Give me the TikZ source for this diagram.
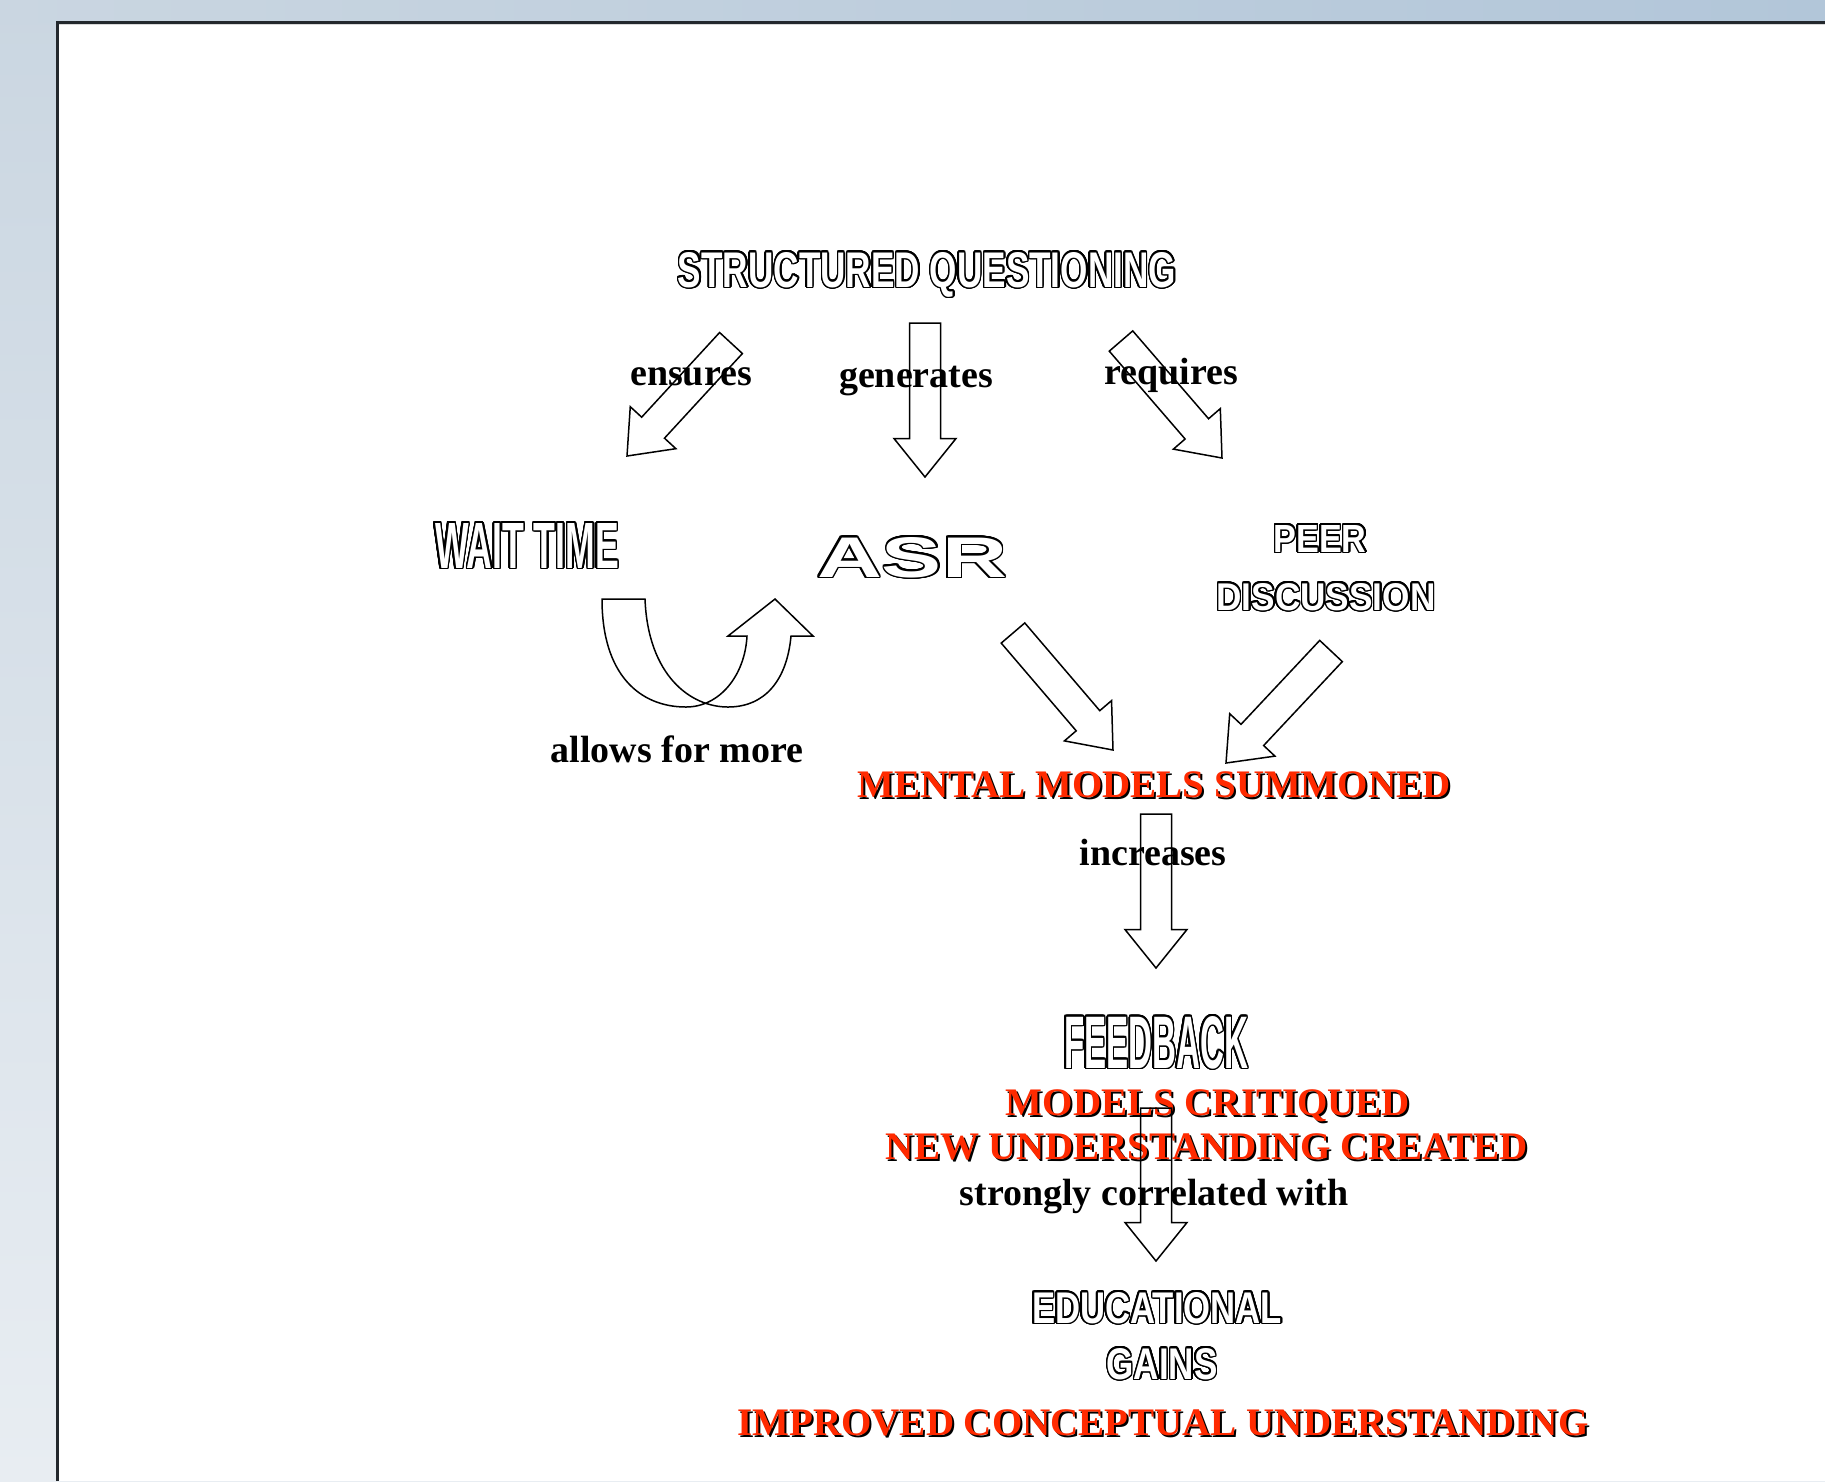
\documentclass[tikz,border=0pt]{standalone}
\usepackage{fontspec}
\setmainfont{Liberation Serif}
\setsansfont{Liberation Sans}
\usepackage{graphicx}
\usepackage{contour}
\contourlength{0.42pt}
\contournumber{24}
\usetikzlibrary{calc}
\definecolor{mmred}{HTML}{FF2A00}
\definecolor{panelline}{HTML}{23282D}
\definecolor{bgleft}{HTML}{CAD6E1}
\definecolor{bgright}{HTML}{B2C6D9}
\definecolor{bgbottom}{HTML}{E8EDF2}

\newcommand{\labelfont}{\fontsize{10.8}{13}\selectfont\bfseries}
\newcommand{\redfont}{\fontsize{11.1}{13}\selectfont\bfseries}
% white letters with a black rim, squeezed to the size of the original
\newcommand{\hollow}[3]{\textcolor{white}{\contour{black}{\resizebox{#1}{#2}{\sffamily\bfseries #3}}}}
% red text with a small black drop shadow
\newcommand{\redtxt}[1]{\leavevmode\rlap{\hspace{0.2mm}\raisebox{-0.2mm}{\color{black}#1}}\textcolor{mmred}{#1}}
% outlined block arrow from tail to tip
\newcommand{\blockarrow}[2]{%
  \coordinate (ba-neck) at ($(#2)!3.85mm!(#1)$);
  \draw[blockline] ($(#1)!1.55mm!90:(#2)$) -- ($(ba-neck)!1.55mm!90:(#2)$)
    -- ($(ba-neck)!3.1mm!90:(#2)$) -- (#2) -- ($(ba-neck)!3.1mm!-90:(#2)$)
    -- ($(ba-neck)!1.55mm!-90:(#2)$) -- ($(#1)!1.55mm!-90:(#2)$) -- cycle;}

\begin{document}
\begin{tikzpicture}[x=0.1mm, y=-0.1mm,
  lbl/.style={inner sep=0, anchor=base, font=\labelfont},
  redlbl/.style={inner sep=0, anchor=base, font=\redfont},
  hollowlbl/.style={inner sep=0, anchor=base},
  blockline/.style={draw=black, line width=0.15mm, line join=miter}]
  \useasboundingbox (0,0) rectangle (1825,1481);

  % backdrop and slide panel
  \shade[top color=bgleft, bottom color=bgbottom] (0,0) rectangle (1825,1481);
  \shade[left color=bgleft, right color=bgright] (0,0) rectangle (1825,22);
  \fill[white] (57,22) rectangle (1825,1481);
  \draw[black!15, line width=0.15mm] (59,24.5) -- (1825,24.5);
  \draw[panelline, line width=0.22mm] (57.5,1481) -- (57.5,22.5) -- (1825,22.5);

  % concepts
  \node[hollowlbl] (sq) at (927,287) {\hollow{49.8mm}{3.5mm}{STRUCTURED QUESTIONING}};
  \node[hollowlbl] (wait) at (527,568) {\hollow{18.4mm}{4.5mm}{WAIT TIME}};
  \node[hollowlbl] (asr) at (912,577) {\hollow{19mm}{4mm}{ASR}};
  \node[hollowlbl] (peer) at (1320,552) {\hollow{9.3mm}{2.7mm}{PEER}};
  \node[hollowlbl] (disc) at (1326,610) {\hollow{21.9mm}{2.7mm}{DISCUSSION}};
  \node[hollowlbl] (feedback) at (1156,1068) {\hollow{18.4mm}{5.2mm}{FEEDBACK}};
  \node[hollowlbl] (edu) at (1157,1323) {\hollow{25mm}{3.1mm}{EDUCATIONAL}};
  \node[hollowlbl] (gains) at (1162,1379) {\hollow{11.1mm}{3.1mm}{GAINS}};

  \node[redlbl] (mental) at (1154,797) {\redtxt{MENTAL MODELS SUMMONED}};
  \node[redlbl] (critiqued) at (1208,1115) {\redtxt{MODELS CRITIQUED}};
  \node[redlbl] (created) at (1207,1159) {\redtxt{NEW UNDERSTANDING CREATED}};
  \node[redlbl] (improved) at (1163,1435) {\redtxt{IMPROVED CONCEPTUAL UNDERSTANDING}};

  % link words
  \node[lbl] (ensures) at (691,385) {ensures};
  \node[lbl] (generates) at (916,387) {generates};
  \node[lbl] (requires) at (1171,384) {requires};
  \node[lbl] (allows) at (677,762) {allows for more};
  \node[lbl] (increases) at (1153,865) {increases};
  \node[lbl] (strongly) at (1154,1205) {strongly correlated with};

  % arrow ends
  \coordinate (ens-t) at (731,343);   \coordinate (ens-h) at (627,456);
  \coordinate (gen-t) at (925,323);   \coordinate (gen-h) at (925,477);
  \coordinate (req-t) at (1121,341);  \coordinate (req-h) at (1222,458);
  \coordinate (asr-t) at (1013,633);  \coordinate (asr-h) at (1113,750);
  \coordinate (peer-t) at (1331,651); \coordinate (peer-h) at (1226,763);
  \coordinate (inc-t) at (1156,814);  \coordinate (inc-h) at (1156,968);
  \coordinate (cor-t) at (1156,1108); \coordinate (cor-h) at (1156,1261);

  \blockarrow{ens-t}{ens-h}
  \blockarrow{gen-t}{gen-h}
  \blockarrow{req-t}{req-h}
  \blockarrow{asr-t}{asr-h}
  \blockarrow{peer-t}{peer-h}
  \blockarrow{inc-t}{inc-h}
  \blockarrow{cor-t}{cor-h}

  % u-turn from wait time back up to asr
  \draw[blockline] (602,599) .. controls (602,675) and (640,707) .. (686,707)
    .. controls (720,707) and (745,675) .. (747,636) -- (728,636) -- (775,599)
    -- (813,636) -- (791,636) .. controls (787,680) and (765,707) .. (728,707)
    .. controls (690,707) and (648,675) .. (645,599) -- cycle;
\end{tikzpicture}
\end{document}
